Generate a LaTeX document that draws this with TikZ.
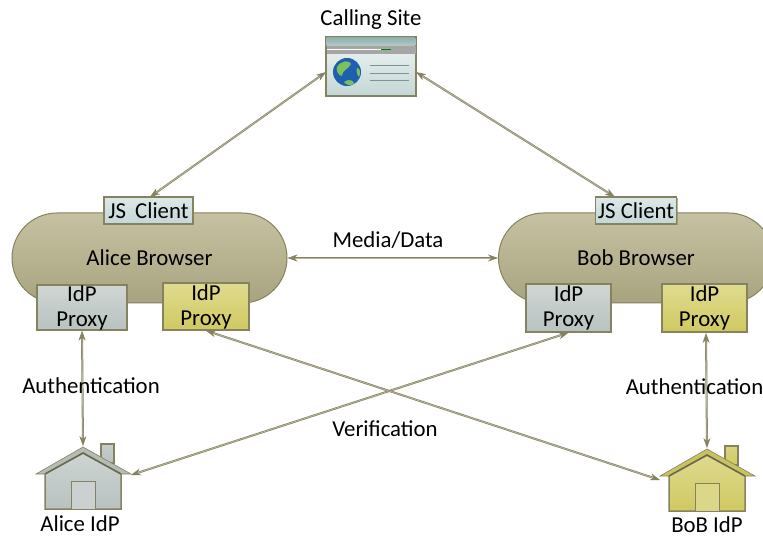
\documentclass[tikz,border=0pt]{standalone}
\usepackage{fontspec}
\setmainfont{Carlito}
\usetikzlibrary{shapes.geometric,arrows.meta,shadows}
\definecolor{edge}{HTML}{85825F}
\definecolor{c4top}{HTML}{C6C1A1}
\definecolor{c4bot}{HTML}{A8A37F}
\definecolor{boxtop}{HTML}{D0D6D4}
\definecolor{boxbot}{HTML}{B8C2C0}
\definecolor{yeltop}{HTML}{E0DB90}
\definecolor{yelbot}{HTML}{D0C960}
\definecolor{clitop}{HTML}{DDE9E8}
\definecolor{clibot}{HTML}{C3D6D5}
\definecolor{bandtop}{HTML}{8FB0AE}
\definecolor{bandbot}{HTML}{B5CBC8}
\definecolor{globe}{HTML}{1F5FB0}
\definecolor{land}{HTML}{7DBF5A}
\tikzstyle{lbl} = [text=black, inner sep=0pt, font=\fontsize{22.8}{25}\selectfont, align=center]
\tikzstyle{browser} = [lbl, rectangle, rounded corners=45pt, minimum width=275pt, minimum height=90pt, line width=1pt, draw=edge, top color=c4top, bottom color=c4bot]
\tikzstyle{boxb} = [lbl, rectangle, line width=1.3pt, draw=edge, top color=boxtop, bottom color=boxbot, drop shadow={shadow xshift=1pt,shadow yshift=-1pt,fill=edge,opacity=.6}]
\tikzstyle{boxy} = [boxb, top color=yeltop, bottom color=yelbot]
\tikzstyle{boxc} = [boxb, top color=clitop, bottom color=clibot, minimum height=27pt]
\tikzstyle{conn} = [line width=.6pt, draw=edge, double=edge!60, double distance=.8pt, <->, >={Stealth[length=10pt,width=7pt]}]
\tikzset{
  house/.pic={
    % origin sits on the roof peak
    \path[line width=1.3pt, draw=edge, top color=#1!80!white, bottom color=#1] (18,-3) rectangle (31,16);
    \path[line width=1.5pt, draw=edge, top color=#1!70!white, bottom color=#1] (-38,26) -- (-38,62) -- (38,62) -- (38,26) -- (0,6) -- cycle;
    \path[line width=1pt, draw=edge, fill=#1!75!white] (-12,34) rectangle (12,62);
    \path[line width=.6pt, draw=edge, fill=#1!90!edge] (-47,27) -- (0,0) -- (48,27) -- (38,27) -- (0,6) -- (-38,27) -- cycle;
    \draw[line width=1.6pt, edge!80!black] (-38,27) -- (0,6) -- (38,27);
  }
}
\begin{document}
\begin{tikzpicture}[x=1pt,y=-1pt]
    \useasboundingbox (0,0) rectangle (763,537);
    \fill[white] (0,0) rectangle (763,537);
    \node (Site) [rectangle, line width=1.3pt, draw=edge, minimum width=90pt, minimum height=59pt, top color=clitop!40!white, bottom color=clibot, drop shadow={shadow xshift=1pt,shadow yshift=-1pt,fill=edge,opacity=.6}] at (371,66.5) {};
    \fill[top color=bandtop, bottom color=bandbot] (326.5,37.5) rectangle (415.5,46);
    \fill[black!35] (326.5,46) rectangle (415.5,54);
    \draw[white,line width=.8pt] (327,49) -- (381,49);
    \draw[green!50!black,line width=.8pt] (381,49) -- (391,49);
    \fill[globe] (347,72) circle (14);
    \fill[land] (337,67) .. controls (341,60) and (350,60) .. (351,64) .. controls (348,70) and (343,69) .. (342,76) .. controls (338,75) and (336,71) .. (337,67) -- cycle;
    \fill[land] (344,82) .. controls (350,78) and (354,81) .. (354,84) .. controls (350,86) and (346,85) .. (344,82) -- cycle;
    \fill[land] (357,68) .. controls (360,68) and (361,73) .. (359,77) .. controls (357,75) and (356,71) .. (357,68) -- cycle;
    \foreach \ly in {65,73,80}
        \draw[bandtop!85!black,line width=.9pt] (370,\ly) -- (409,\ly);
    \node (SiteTitle) [lbl] at (371,20) {Calling Site};
    \node (AliceBrowser) [browser] at (149.5,258) {Alice Browser};
    \node (BobBrowser) [browser] at (636,258) {Bob Browser};
    \node (ClientA) [boxc, minimum width=89pt] at (148.5,210.5) {JS\, Client};
    \node (ClientB) [boxc, minimum width=81pt] at (636,210.5) {JS Client};
    \node (ProxyA) [boxb, minimum width=90pt, minimum height=45pt] at (82,307.5) {IdP\\Proxy};
    \node (ProxyB) [boxy, minimum width=86pt, minimum height=47pt] at (206,306.5) {IdP\\Proxy};
    \node (ProxyC) [boxb, minimum width=85pt, minimum height=48pt] at (568.5,308) {IdP\\Proxy};
    \node (ProxyD) [boxy, minimum width=85pt, minimum height=48pt] at (704.5,308) {IdP\\Proxy};
    \pic at (83,447) {house=boxbot};
    \pic at (707,449) {house=yelbot};
    \coordinate (AliceRoof) at (83,446);
    \coordinate (AliceEave) at (131,475);
    \coordinate (BobRoof) at (707,448);
    \coordinate (BobEave) at (660,480);
    \coordinate (SiteL) at (326,72);
    \coordinate (SiteR) at (416,72);
    \coordinate (ClientBIn) at (615,197);
    \coordinate (ClientAIn) at (150,197);
    \coordinate (ProxyDIn) at (706,333);
    \node (AliceIdP) [lbl] at (80,524) {Alice IdP};
    \node (BobIdP) [lbl] at (707,525) {BoB IdP};
    \draw[conn] (SiteL) -- (ClientAIn);
    \draw[conn] (SiteR) -- (ClientBIn);
    \draw[conn] (AliceBrowser.east) -- (BobBrowser.west);
    \draw[conn] (ProxyA.south) -- (AliceRoof);
    \draw[conn] (ProxyDIn) -- (BobRoof);
    \draw[conn] (ProxyC.south) -- (AliceEave);
    \draw[conn] (ProxyB.south) -- (BobEave);
    \node (MediaData) [lbl] at (388,240) {Media/Data};
    \node (AuthA) [lbl] at (91,386) {Authentication};
    \node (AuthB) [lbl] at (694.5,387) {Authentication};
    \node (Verif) [lbl] at (385,429) {Verification};
\end{tikzpicture}
\end{document}
